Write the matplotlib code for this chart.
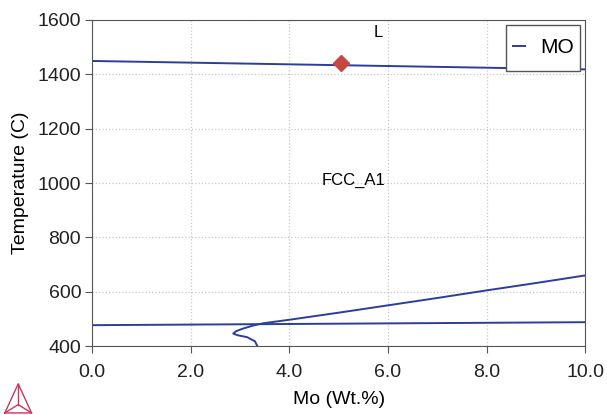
import matplotlib
matplotlib.use("Agg")
import matplotlib.pyplot as plt
from matplotlib.patches import Rectangle
import numpy as np

plt.rcParams['font.family'] = ['Liberation Sans', 'DejaVu Sans']

# Liquidus line
liq_x = [0.0, 10.0]
liq_t = [1449, 1418]
# Eutectoid-like horizontal line
low_x = [0.0, 10.0]
low_t = [477, 488]
# Solvus curve
sol_x = [3.35, 3.30, 3.14, 2.95, 2.86, 2.92, 3.05, 3.27, 3.47, 4.0, 5.0, 6.0, 7.0, 8.0, 9.0, 10.0]
sol_t = [400, 418, 433, 440, 446, 455, 464, 476, 484, 497, 523, 550, 577, 605, 632, 660]
# Marker
pt_x = [5.05]
pt_t = [1441]

line_color = '#2b3d9e'

fig = plt.figure(figsize=(6.07, 4.15), dpi=100)
ax = fig.add_axes([0.152, 0.166, 0.812, 0.786])

ax.plot(liq_x, liq_t, color=line_color, lw=1.4, label='MO')
ax.plot(low_x, low_t, color=line_color, lw=1.4)
ax.plot(sol_x, sol_t, color=line_color, lw=1.4)
ax.plot(pt_x, pt_t, marker='D', color='#c8463e', ms=8, ls='none')

ax.set_xlim(0, 10)
ax.set_ylim(400, 1600)
ax.set_xticks(np.arange(0, 10.1, 2))
ax.set_xticklabels([f"{v:.1f}" for v in np.arange(0, 10.1, 2)])
ax.set_yticks(np.arange(400, 1601, 200))
ax.grid(True, color='#c8c8c8', ls=':', lw=0.9)
for s in ax.spines.values():
    s.set_color('#555555')
ax.tick_params(labelsize=14, color='#555555', length=5, colors='#222222')
ax.tick_params(axis='x', pad=8)
ax.tick_params(axis='y', pad=3)
ax.set_xlabel('Mo (Wt.%)', fontsize=14, labelpad=7)
ax.set_ylabel('Temperature (C)', fontsize=14, labelpad=6)

ax.text(5.8, 1555, 'L', fontsize=12, ha='center', va='center')
ax.text(5.3, 1010, 'FCC_A1', fontsize=12, ha='center', va='center')

# Legend box drawn manually, legend placed inside
ax.add_patch(Rectangle((0.840, 0.844), 0.150, 0.141, transform=ax.transAxes,
                       facecolor='white', edgecolor='#555555', lw=1.0, zorder=4))
leg = ax.legend(loc='center', fontsize=15, handlelength=0.6, handletextpad=0.7,
                frameon=False, borderpad=0.2, bbox_to_anchor=(0.915, 0.914))
leg.set_zorder(5)

# Logo (decorative)
lc = '#c8385e'
lx = [0.008, 0.030, 0.052, 0.008]
ly = [0.005, 0.075, 0.005, 0.005]
fig.add_artist(plt.Line2D(lx, ly, transform=fig.transFigure, color=lc, lw=1))
fig.add_artist(plt.Line2D([0.030, 0.030], [0.075, 0.025], transform=fig.transFigure, color=lc, lw=1))
fig.add_artist(plt.Line2D([0.008, 0.030, 0.052], [0.005, 0.025, 0.005], transform=fig.transFigure, color=lc, lw=1))

fig.savefig('out.png', dpi=100)
